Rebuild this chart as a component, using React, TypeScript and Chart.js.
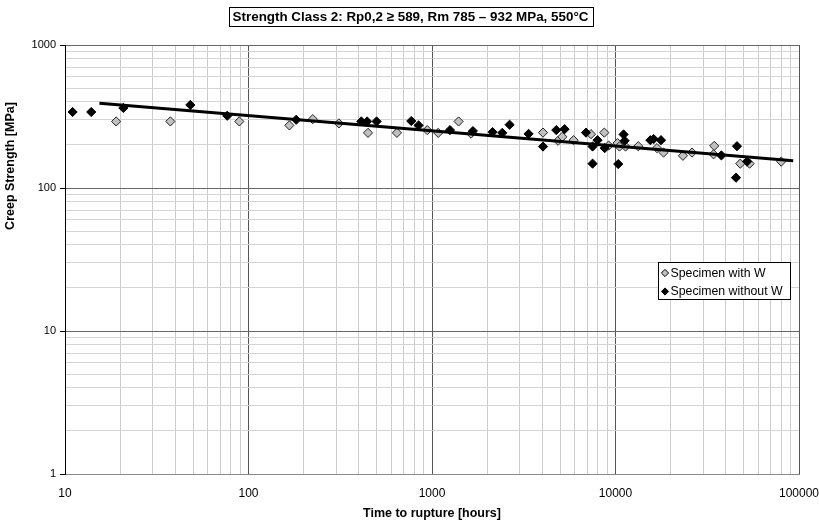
import React, { useEffect, useRef } from "react";
import { Chart, registerables } from "chart.js";

Chart.register(...registerables);

const TITLE = "Strength Class 2: Rp0,2 ≥ 589, Rm 785 – 932 MPa, 550°C";
const X_TITLE = "Time to rupture [hours]";
const Y_TITLE = "Creep Strength [MPa]";
const LEGEND_LABELS = ["Specimen with W", "Specimen without W"];

const xTickLabels = [10, 100, 1000, 10000, 100000];
const yTickLabels = [1, 10, 100, 1000];

// Specimen with W (grey diamonds)
const withWHours = [
  19.0, 37.5, 89.1, 167, 224, 311, 448, 644, 942, 1081, 1396, 1632, 4027, 4864,
  5133, 5912, 7353, 8690, 9170, 10260, 10510, 11340, 13310, 16830, 18280, 23300,
  26120, 34520, 34240, 47860, 53800, 80000,
];
const withWStress = [
  292, 292, 292, 274, 303, 283, 243, 243, 254, 243, 292, 240, 244, 214, 228, 216,
  238, 244, 198, 206, 195, 195, 196, 190, 177, 168, 177, 197, 172, 148, 148, 153,
];

// Specimen without W (black diamonds)
const withoutWHours = [
  11.0, 13.9, 20.8, 48.2, 76.6, 182, 412, 443, 499, 771, 845, 1253, 1671, 2138,
  2415, 2648, 3360, 4027, 4757, 5280, 6905, 7980, 7500, 7500, 8730, 11070, 11220,
  10350, 15490, 16140, 17700, 37760, 45920, 45360, 52120,
];
const withoutWStress = [
  340, 340, 363, 381, 320, 300, 292, 292, 292, 294, 274, 254, 250, 246, 243, 277,
  239, 195, 254, 258, 244, 216, 195, 148, 190, 237, 214, 147, 216, 220, 216, 169,
  196, 118, 153,
];

// Trend line end points
const trendHours = [15.4, 93000];
const trendStress = [392, 155];

const FONT = '"Liberation Sans", Arial, Helvetica, sans-serif';
const GREY = "#c0c0c0";

const isDecade = (v: number) => {
  const l = Math.log10(v);
  return Math.abs(l - Math.round(l)) < 1e-9;
};

const logTicks = (min: number, max: number) => {
  const out: { value: number }[] = [];
  for (let d = min; d < max; d *= 10) {
    for (let m = 1; m <= 9; m++) out.push({ value: m * d });
  }
  out.push({ value: max });
  return out;
};

const decorPlugin = {
  id: "decor",
  afterDraw(chart: any) {
    const ctx = chart.ctx as CanvasRenderingContext2D;
    const ca = chart.chartArea;
    ctx.save();
    // Title with box
    ctx.font = `bold 13.4px ${FONT}`;
    ctx.fillStyle = "#000";
    ctx.textAlign = "center";
    ctx.textBaseline = "middle";
    const tx = 410.5;
    const ty = 17;
    const tw = ctx.measureText(TITLE).width;
    ctx.fillText(TITLE, tx, ty);
    ctx.strokeStyle = "#000";
    ctx.lineWidth = 1;
    ctx.strokeRect(Math.round(tx - tw / 2 - 4) + 0.5, 7.5, Math.round(tw + 8), 19);

    // X axis title
    ctx.font = `bold 12.5px ${FONT}`;
    ctx.fillText(X_TITLE, (ca.left + ca.right) / 2, 514);

    // Y axis title
    ctx.save();
    ctx.translate(11, 166);
    ctx.rotate(-Math.PI / 2);
    ctx.fillText(Y_TITLE, 0, 0);
    ctx.restore();

    // Legend
    const lx = 658.5;
    const ly = 262.5;
    const lw = 132;
    const lh = 37;
    ctx.fillStyle = "#fff";
    ctx.fillRect(lx, ly, lw, lh);
    ctx.strokeStyle = "#000";
    ctx.strokeRect(lx, ly, lw, lh);
    const rows = [
      { y: 273, fill: GREY, label: LEGEND_LABELS[0] },
      { y: 291.5, fill: "#000", label: LEGEND_LABELS[1] },
    ];
    ctx.font = `12.3px ${FONT}`;
    ctx.textAlign = "left";
    for (const r of rows) {
      const cx = 665;
      const s = 3.6;
      ctx.beginPath();
      ctx.moveTo(cx, r.y - s);
      ctx.lineTo(cx + s, r.y);
      ctx.lineTo(cx, r.y + s);
      ctx.lineTo(cx - s, r.y);
      ctx.closePath();
      ctx.fillStyle = r.fill;
      ctx.fill();
      ctx.strokeStyle = "#000";
      ctx.lineWidth = 1;
      ctx.stroke();
      ctx.fillStyle = "#000";
      ctx.fillText(r.label, 670.5, r.y + 0.5);
    }
    ctx.restore();
  },
};

export default function App() {
  const ref = useRef<HTMLCanvasElement | null>(null);

  useEffect(() => {
    if (!ref.current) return;
    const chart = new Chart(ref.current, {
      type: "scatter",
      data: {
        datasets: [
          {
            label: "Trend",
            type: "line",
            data: trendHours.map((x, i) => ({ x, y: trendStress[i] })),
            borderColor: "#000",
            borderWidth: 3,
            pointRadius: 0,
            fill: false,
            order: 0,
          } as any,
          {
            label: LEGEND_LABELS[1],
            data: withoutWHours.map((x, i) => ({ x, y: withoutWStress[i] })),
            pointStyle: "rectRot",
            pointRadius: 4.6,
            backgroundColor: "#000",
            borderColor: "#000",
            borderWidth: 1,
            order: 1,
          },
          {
            label: LEGEND_LABELS[0],
            data: withWHours.map((x, i) => ({ x, y: withWStress[i] })),
            pointStyle: "rectRot",
            pointRadius: 4.6,
            backgroundColor: GREY,
            borderColor: "#222",
            borderWidth: 1,
            order: 2,
          },
        ],
      },
      options: {
        responsive: false,
        animation: false,
        layout: { padding: { left: 0, top: 45, right: 20, bottom: 0 } },
        plugins: {
          legend: { display: false },
          title: { display: false },
          tooltip: { enabled: false },
        },
        scales: {
          x: {
            type: "logarithmic",
            min: xTickLabels[0],
            max: xTickLabels[xTickLabels.length - 1],
            afterBuildTicks: (s: any) => {
              s.ticks = logTicks(xTickLabels[0], xTickLabels[xTickLabels.length - 1]);
            },
            afterFit: (s: any) => {
              s.height = 50;
              s.paddingLeft = 0;
              s.paddingRight = 0;
            },
            ticks: {
              autoSkip: false,
              maxRotation: 0,
              padding: 12,
              color: "#000",
              font: { family: FONT, size: 12 },
              callback: (v: any) => (isDecade(Number(v)) ? String(Number(v)) : ""),
            },
            grid: {
              drawTicks: false,
              color: (c: any) => (c.tick && isDecade(c.tick.value) ? "#555" : "#cccccc"),
              lineWidth: 1,
            },
            border: { color: "#888", width: 1 },
          },
          y: {
            type: "logarithmic",
            min: yTickLabels[0],
            max: yTickLabels[yTickLabels.length - 1],
            afterBuildTicks: (s: any) => {
              s.ticks = logTicks(yTickLabels[0], yTickLabels[yTickLabels.length - 1]);
            },
            afterFit: (s: any) => {
              s.width = 65;
              s.paddingTop = 0;
              s.paddingBottom = 0;
            },
            ticks: {
              autoSkip: false,
              padding: 4,
              color: "#000",
              font: { family: FONT, size: 11 },
              callback: (v: any) => (isDecade(Number(v)) ? String(Number(v)) : ""),
            },
            grid: {
              drawTicks: true,
              tickLength: 5,
              color: (c: any) => (c.tick && isDecade(c.tick.value) ? "#666" : "#d4d4d4"),
              tickColor: (c: any) =>
                c.tick && isDecade(c.tick.value) ? "#000" : "rgba(0,0,0,0)",
              lineWidth: 1,
            },
            border: { color: "#000", width: 1 },
          },
        },
      },
      plugins: [decorPlugin],
    } as any);
    return () => chart.destroy();
  }, []);

  return (
    <div style={{ position: "absolute", left: 0, top: 0, width: 819, height: 524, background: "#fff" }}>
      <canvas ref={ref} width={819} height={524} style={{ display: "block" }} />
    </div>
  );
}
